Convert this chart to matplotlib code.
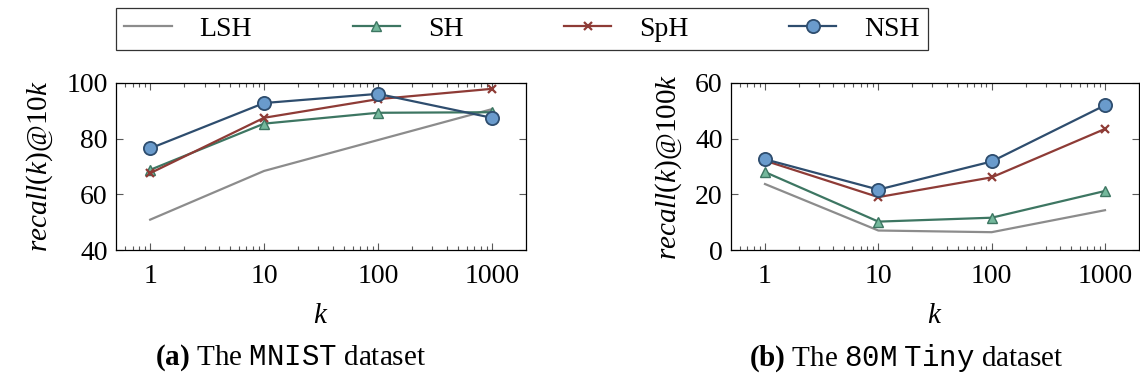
import matplotlib
matplotlib.use("Agg")
import matplotlib.pyplot as plt
from matplotlib.ticker import FixedLocator, LogLocator, NullFormatter

plt.rcParams['font.family'] = ['Liberation Serif', 'DejaVu Serif']
plt.rcParams['mathtext.fontset'] = 'custom'
plt.rcParams['mathtext.rm'] = 'Liberation Serif'
plt.rcParams['mathtext.it'] = 'Liberation Serif:italic'
plt.rcParams['mathtext.bf'] = 'Liberation Serif:bold'
plt.rcParams['mathtext.tt'] = 'Liberation Mono'

# data
k = [1, 10, 100, 1000]
k_labels = ['1', '10', '100', '1000']
methods = ['LSH', 'SH', 'SpH', 'NSH']

mnist_lsh = [50.9, 68.4, 79.5, 90.6]
mnist_sh = [68.8, 85.4, 89.3, 89.5]
mnist_sph = [67.6, 87.5, 94.2, 97.9]
mnist_nsh = [76.5, 92.8, 96.1, 87.5]

tiny_lsh = [23.7, 7.0, 6.4, 14.3]
tiny_sh = [28.0, 10.2, 11.6, 21.2]
tiny_sph = [32.1, 19.0, 26.1, 43.5]
tiny_nsh = [32.6, 21.7, 31.8, 52.0]

styles = {
    'LSH': dict(color='#8c8c8c', lw=1.6, marker=None),
    'SH': dict(color='#3d7662', lw=1.6, marker='^', ms=7, mfc='#74b89c', mec='#3d7662', mew=1.0),
    'SpH': dict(color='#8e3b36', lw=1.6, marker='x', ms=6, mew=1.6),
    'NSH': dict(color='#2e4d6e', lw=1.6, marker='o', ms=9.5, mfc='#6a9bcc', mec='#2e4d6e', mew=1.3),
}

fig = plt.figure(figsize=(11.4, 3.83), dpi=100)
ax1 = fig.add_axes([116 / 1140, 133 / 383, 410 / 1140, 167 / 383])
ax2 = fig.add_axes([731 / 1140, 133 / 383, 408 / 1140, 167 / 383])


def draw(ax, series, ylim, yticks, ylabel):
    lines = []
    for name, vals in zip(methods, series):
        ln, = ax.plot(k, vals, label=name, **styles[name])
        lines.append(ln)
    ax.set_xscale('log')
    ax.set_xlim(10 ** -0.3, 10 ** 3.3)
    ax.xaxis.set_major_locator(FixedLocator(k))
    ax.set_xticklabels(k_labels)
    ax.xaxis.set_minor_locator(LogLocator(base=10, subs=range(2, 10)))
    ax.xaxis.set_minor_formatter(NullFormatter())
    ax.set_ylim(*ylim)
    ax.set_yticks(yticks)
    ax.tick_params(which='both', direction='in', top=True, right=True,
                   color='0.35', width=0.8, labelsize=20)
    ax.tick_params(which='major', length=5, pad=6)
    ax.tick_params(axis='x', which='major', pad=10)
    ax.tick_params(which='minor', length=3)
    for s in ax.spines.values():
        s.set_linewidth(0.9)
    ax.set_xlabel('$k$', fontsize=21, labelpad=10)
    ax.set_ylabel(ylabel, fontsize=21, labelpad=8)
    return lines


lines = draw(ax1, [mnist_lsh, mnist_sh, mnist_sph, mnist_nsh], (40, 100),
             [40, 60, 80, 100], r'$recall(k)$@10$k$')
draw(ax2, [tiny_lsh, tiny_sh, tiny_sph, tiny_nsh], (0, 60),
     [0, 20, 40, 60], r'$recall(k)$@100$k$')

leg = fig.legend(lines, methods, loc='lower left', ncol=4, mode='expand',
                 bbox_to_anchor=(116 / 1140, 1 - 50 / 383, 812 / 1140, 45 / 383),
                 borderaxespad=0, fontsize=20, fancybox=False, edgecolor='black',
                 handlelength=1.7, handletextpad=1.0, borderpad=0.3)
leg.get_frame().set_linewidth(0.9)

fig.text(291 / 1140, 1 - 358 / 383, r'$\mathbf{(a)}$ The $\mathtt{MNIST}$ dataset',
         ha='center', va='center', fontsize=21)
fig.text(906 / 1140, 1 - 358 / 383, r'$\mathbf{(b)}$ The $\mathtt{80M\ Tiny}$ dataset',
         ha='center', va='center', fontsize=21)

fig.savefig('out.png', dpi=100)
